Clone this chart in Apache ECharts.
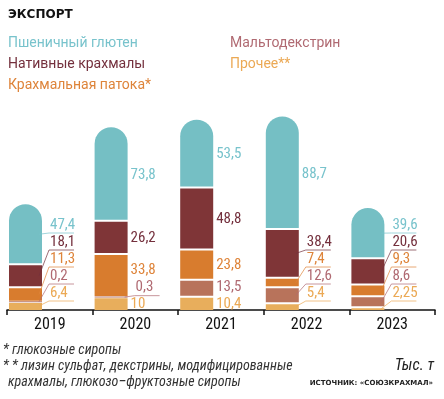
<!DOCTYPE html>
<html>
<head>
<meta charset="utf-8">
<script src="https://cdn.jsdelivr.net/npm/echarts@6/dist/echarts.min.js"></script>
<style>
  html, body { margin: 0; padding: 0; background: #fff; }
  #chart { width: 444px; height: 399px; }
</style>
</head>
<body>
<div id="chart"></div>
<script>
// данные, тыс. т
var years = ['2019', '2020', '2021', '2022', '2023'];
var wheat = [47.4, 73.8, 53.5, 88.7, 39.6];   // Пшеничный глютен
var nativ = [18.1, 26.2, 48.8, 38.4, 20.6];   // Нативные крахмалы
var syrup = [11.3, 33.8, 23.8, 7.4, 9.3];     // Крахмальная патока*
var malto = [0.2, 0.3, 13.5, 12.6, 8.6];      // Мальтодекстрин
var other = [6.4, 10, 10.4, 5.4, 2.25];       // Прочее**

// порядок снизу вверх
var layers = [other, malto, syrup, nativ, wheat];
var names = ['Прочее**', 'Мальтодекстрин', 'Крахмальная патока*', 'Нативные крахмалы', 'Пшеничный глютен'];
var colors = ['#e8ae5c', '#b8735b', '#d87c2e', '#7f3537', '#75bfc4'];
var textColors = ['#eba955', '#b06a72', '#de843a', '#74303d', '#78c3cc'];

var cond = '"Roboto Condensed", "DejaVu Sans Condensed", sans-serif';
var plain = 'Roboto, "Liberation Sans", sans-serif';
var barW = 33;

function fmt(v) {
    return String(v).replace('.', ',');
}

// раскладка одного столбца: сегменты + подписи
function layoutColumn(idx, api) {
    var base = api.coord([idx, 0]);
    var catW = api.size([1, 0])[0];
    var x0 = base[0] - catW / 2 + 2;
    var cum = 0;
    var segs = [];
    for (var j = 0; j < layers.length; j++) {
        var v = layers[j][idx];
        var yb = api.coord([idx, cum])[1];
        cum += v;
        var yt = api.coord([idx, cum])[1];
        var top = j === layers.length - 1 ? yt : yt + 1;
        var bottom = j === 0 ? yb : yb - 1;
        if (bottom - top < 1) {
            var m = (yt + yb) / 2;
            top = m - 0.5;
            bottom = m + 0.5;
        }
        segs.push({top: top, bottom: bottom, mid: (yt + yb) / 2, value: v});
    }
    var prev = Infinity;
    segs.forEach(function (s, j) {
        var want = s.mid + 1;
        if (j === 0 && s.bottom - s.top < 9) want = base[1] - 17;
        var y = Math.min(want, prev - 17);
        s.labelY = y;
        s.lead = Math.abs(y - s.mid) > 6;
        prev = y;
    });
    return {x0: x0, segs: segs};
}

function renderLayer(k) {
    return function (params, api) {
        var idx = api.value(0);
        var col = layoutColumn(idx, api);
        var s = col.segs[k];
        var isTop = k === layers.length - 1;
        var right = col.x0 + barW;
        var lx = s.lead ? right + 8 : right + 3;
        var children = [{
            type: 'rect',
            shape: {x: col.x0, y: s.top, width: barW, height: s.bottom - s.top,
                r: isTop ? [barW / 2, barW / 2, 0, 0] : 0},
            style: {fill: colors[k]}
        }, {
            type: 'text',
            x: lx,
            y: s.labelY,
            z2: 100,
            style: {
                text: fmt(s.value),
                fill: textColors[k],
                fontSize: 15,
                fontFamily: cond,
                align: 'left',
                verticalAlign: 'middle'
            }
        }];
        if (s.lead) {
            children.push({
                type: 'polyline',
                z2: 100,
                shape: {points: [[right - 3, s.mid], [lx - 1, s.labelY + 8], [lx + 24, s.labelY + 8]]},
                style: {stroke: textColors[k], lineWidth: 1, fill: 'none', opacity: 0.7}
            });
        }
        return {type: 'group', children: children};
    };
}

var chart = echarts.init(document.getElementById('chart'));

var series = layers.map(function (arr, k) {
    return {
        name: names[k],
        type: 'custom',
        renderItem: renderLayer(k),
        itemStyle: {color: colors[k]},
        encode: {x: 0, y: 1},
        data: arr.map(function (v, i) { return [i, v]; })
    };
});

function legendItem(k) {
    return {name: names[k], textStyle: {color: textColors[k]}};
}

var legendText = {fontSize: 14, fontFamily: plain, lineHeight: 18};

var option = {
    animation: false,
    title: {
        text: 'ЭКСПОРТ',
        left: 3,
        top: 4,
        textStyle: {fontSize: 12, fontWeight: 'bold', fontFamily: '"DejaVu Sans", sans-serif', color: '#111'}
    },
    legend: [{
        orient: 'vertical',
        left: 3,
        top: 34,
        padding: 0,
        icon: 'none',
        itemWidth: 0,
        itemGap: 3,
        selectedMode: false,
        textStyle: legendText,
        data: [legendItem(4), legendItem(3), legendItem(2)]
    }, {
        orient: 'vertical',
        left: 225,
        top: 34,
        padding: 0,
        icon: 'none',
        itemWidth: 0,
        itemGap: 3,
        selectedMode: false,
        textStyle: legendText,
        data: [legendItem(1), legendItem(0)]
    }],
    grid: {left: 7, right: 9, top: 107, bottom: 89},
    xAxis: {
        type: 'category',
        data: years,
        axisLine: {lineStyle: {color: '#111', width: 1.5}},
        axisTick: {show: true, length: 5, lineStyle: {color: '#111', width: 1.5}},
        axisLabel: {color: '#111', fontSize: 16, fontFamily: cond, margin: 7}
    },
    yAxis: {
        type: 'value',
        min: 0,
        max: 160,
        show: false
    },
    graphic: [{
        type: 'text', left: 3, top: 343,
        style: {text: '* глюкозные сиропы', fill: '#333', fontSize: 14, fontStyle: 'italic', fontFamily: cond}
    }, {
        type: 'text', left: 3, top: 359,
        style: {text: '* * лизин сульфат, декстрины, модифицированные', fill: '#333', fontSize: 14, fontStyle: 'italic', fontFamily: cond}
    }, {
        type: 'text', left: 8, top: 375,
        style: {text: 'крахмалы, глюкозо–фруктозные сиропы', fill: '#333', fontSize: 14, fontStyle: 'italic', fontFamily: cond}
    }, {
        type: 'text', right: 10, top: 358,
        style: {text: 'Тыс. т', fill: '#222', fontSize: 16, fontStyle: 'italic', fontFamily: cond}
    }, {
        type: 'text', right: 11, top: 380,
        style: {text: 'ИСТОЧНИК: «СОЮЗКРАХМАЛ»', fill: '#222', fontSize: 7, fontWeight: 'bold', fontFamily: '"DejaVu Sans", sans-serif'}
    }],
    series: series
};

chart.setOption(option);
</script>
</body>
</html>
